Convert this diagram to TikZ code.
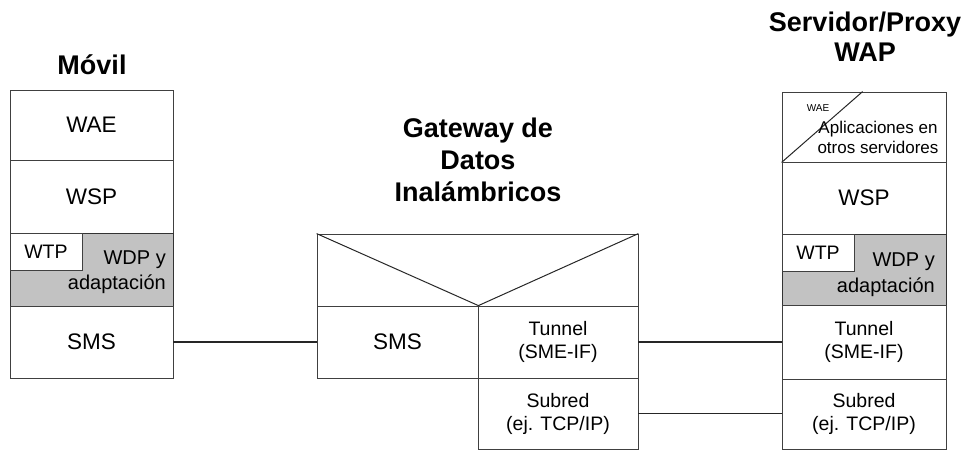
\documentclass[tikz,border=0pt]{standalone}
\usepackage{fontspec}
\setmainfont{Liberation Sans}
\tikzset{
  capa/.style={draw=black!75, line width=0.8pt, inner sep=0pt, align=center, font=\fontsize{22.5}{26}\selectfont},
  capachica/.style={capa, font=\fontsize{19.5}{23}\selectfont},
  texto/.style={inner sep=0pt, align=center, font=\fontsize{19.5}{23}\selectfont},
  titulo/.style={inner sep=0pt, align=center, font=\fontsize{27}{32}\selectfont\bfseries},
  gris/.style={fill=black!24, draw=black!80, line width=1pt},
  enlace/.style={line width=1.2pt, black!85}
}

\begin{document}
\begin{tikzpicture}[x=1pt, y=-1pt]
    % Parametros
    \pgfmathsetmacro{\anchoPila}{163}
    \pgfmathsetmacro{\anchoWTP}{72}
    \useasboundingbox (0,0) rectangle (967,452);
    % Titulos
    \node[titulo] (tMovil) at (92,65) {Móvil};
    \node[titulo] (tGateway) at (478,160) {Gateway de\\Datos\\Inalámbricos};
    \node[titulo, font=\fontsize{27}{30}\selectfont\bfseries] (tServidor) at (865,37) {Servidor/Proxy\\WAP};
    % Pila del movil
    \node[capa, minimum width=\anchoPila, minimum height=70] (movWAE) at (91.5,125) {WAE};
    \node[capa, minimum width=\anchoPila, minimum height=73] (movWSP) at (91.5,196.5) {WSP};
    \draw[gris] (82,233) -- (173,233) -- (173,306) -- (10,306) -- (10,270) -- (82,270) -- cycle;
    \node[capachica, minimum width=\anchoWTP, minimum height=37] (movWTP) at (46,251.5) {WTP};
    \node[texto, align=right, anchor=east, font=\fontsize{20}{25}\selectfont] (movWDP) at (166,272.5) {WDP y\\adaptación};
    \node[capa, minimum width=\anchoPila, minimum height=72] (movSMS) at (91.5,342) {SMS};
    % Gateway
    \node[capa, minimum width=321, minimum height=72] (gwV) at (477.5,270) {};
    \node[capa, minimum width=161, minimum height=72] (gwSMS) at (397.5,342) {SMS};
    \node[capachica, minimum width=160, minimum height=72] (gwTun) at (558,342) {Tunnel\\(SME-IF)};
    \node[capachica, minimum width=160, minimum height=71] (gwSub) at (558,413.5) {Subred\\(ej. TCP/IP)};
    \draw[black!85, line width=1pt] (gwV.north west) -- (gwSMS.north east) -- (gwV.north east);
    % Servidor/Proxy WAP
    \node[capa, minimum width=164, minimum height=70] (srvWAE) at (864,127) {};
    \draw[black!85, line width=1pt] (srvWAE.south west) -- ([xshift=81pt]srvWAE.north west);
    \node[texto, font=\fontsize{10}{12}\selectfont] (srvWAEtxt) at (818,108) {WAE};
    \node[texto, font=\fontsize{17}{19.5}\selectfont] (srvApl) at (878,137.5) {Aplicaciones en\\otros servidores};
    \node[capa, minimum width=164, minimum height=72] (srvWSP) at (864,198) {WSP};
    \draw[gris] (854,234) -- (946,234) -- (946,305) -- (782,305) -- (782,271) -- (854,271) -- cycle;
    \node[capachica, minimum width=\anchoWTP, minimum height=37] (srvWTP) at (818,252.5) {WTP};
    \node[texto, align=right, anchor=east, font=\fontsize{20}{26}\selectfont] (srvWDP) at (935,274.5) {WDP y\\adaptación};
    \node[capachica, minimum width=164, minimum height=74] (srvTun) at (864,342) {Tunnel\\(SME-IF)};
    \node[capachica, minimum width=164, minimum height=70] (srvSub) at (864,414) {Subred\\(ej. TCP/IP)};
    % Enlaces
    \draw[enlace] (movSMS) -- (gwSMS);
    \draw[enlace] (gwTun) -- (srvTun);
    \draw[enlace] (gwSub.east) -- (gwSub.east -| srvSub.west);
\end{tikzpicture}
\end{document}
